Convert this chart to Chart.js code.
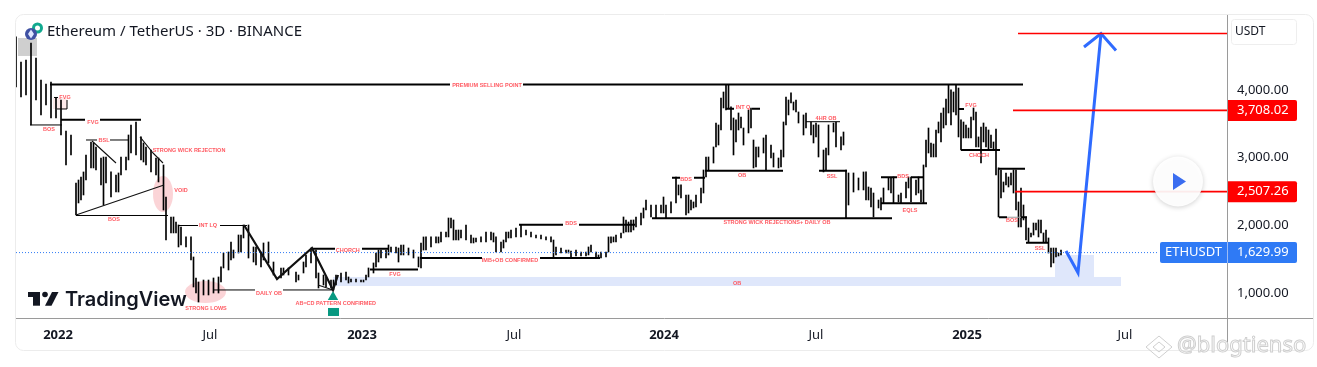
<!DOCTYPE html>
<html>
<head>
<meta charset="utf-8">
<script src="https://cdn.jsdelivr.net/npm/chart.js@4/dist/chart.umd.min.js"></script>
<style>
  html, body { margin: 0; padding: 0; background: #fff; overflow: hidden; }
  #chart { display: block; }
</style>
</head>
<body>
<canvas id="chart" width="1317" height="367"></canvas>
<script>
// x is the candle number (3D candles), y is the price in USDT
const candleIndex = [
  0,2,4,6,8,10,12,14,16,18,
  20,22,24,25,26,27,28,30,31,32,
  34,35,36,38,40,41,42,44,45,46,
  48,50,51,52,54,56,57,59,60,62,
  63,64,65,66,68,70,71,72,73,75,
  77,79,81,82,83,85,86,87,89,90,
  91,93,95,96,98,99,101,103,106,107,
  109,112,113,115,116,118,120,121,123,124,
  126,127,128,130,132,133,134,136,138,139,
  140,141,143,144,145,146,148,149,150,152,
  153,154,155,157,159,161,162,163,164,166,
  168,169,170,172,173,174,175,176,177,178,
  180,182,183,184,186,188,190,191,192,194,
  195,196,197,198,200,202,204,206,208,210,
  212,214,215,216,218,220,221,222,224,226,
  228,229,230,232,233,234,236,237,238,239,
  240,242,243,244,245,246,247,248,250,251,
  252,254,256,258,259,260,262,264,265,266,
  268,269,270,271,272,274,275,276,277,279,
  280,281,282,283,284,285,286,287,288,289,
  290,291,293,294,295,296,297,299,300,302,
  303,305,306,307,308,309,310,311,312,313,
  315,316,318,319,320,321,323,324,325,327,
  328,330,331,332,333,335,337,339,340,341,
  342,343,345,346,347,349,350,351,353,354,
  356,357,358,360,361,362,363,364,365,366,
  367,368,369,370,371,372,373,374,375,376,
  377,378,379,380,381,382,383,384,385,386,
  387,388,389,390,391,392,393,394,395,396,
  397,398,399,400,401,402,403,404,405,406,
  407,408,409,410,411,412,413,414,415,416,417,418
];
const candleHigh = [
  4782,4412,4442,4693,4471,4146,4087,4117,3880,3851,
  3393,3334,2625,2669,2714,2788,3039,3231,3216,3157,
  2994,3009,3009,2788,2743,2773,3009,3009,3334,3482,
  3526,3305,3216,3157,3112,2994,2994,2891,2418,2123,
  2123,2049,2005,1975,1828,1828,1532,1222,1163,1192,
  1192,1222,1237,1385,1591,1606,1754,1635,1857,1857,
  2005,2005,1680,1680,1606,1739,1754,1458,1370,1370,
  1370,1310,1266,1458,1562,1665,1635,1296,1266,1237,
  1192,1192,1266,1296,1310,1237,1207,1207,1192,1192,
  1266,1370,1444,1591,1635,1635,1635,1709,1680,1680,
  1665,1709,1709,1665,1635,1532,1739,1828,1828,1828,
  1828,1828,1901,1901,2108,2108,2079,1931,1931,1931,
  2005,1857,1813,1813,1828,1901,1901,1887,1828,1754,
  1783,1901,1901,1931,1960,2005,1931,1901,1857,1857,
  1828,1828,1783,1680,1665,1635,1635,1621,1635,1606,
  1606,1680,1709,1606,1562,1606,1606,1828,1828,1828,
  1857,1887,2123,2079,2049,2079,2079,2123,2182,2256,
  2374,2300,2300,2300,2418,2300,2345,2714,2596,2596,
  2448,2448,2374,2345,2448,2551,2817,3009,3009,3157,
  3511,3482,3880,3969,4073,4073,3748,3585,3556,3659,
  3600,3437,3703,3733,3260,3157,3157,3290,3334,3186,
  3068,2994,3112,3526,3895,3851,3955,3821,3851,3674,
  3630,3659,3526,3482,3511,3482,3112,3142,3482,3511,
  3526,3305,3378,2817,2773,2773,2699,2788,2788,2566,
  2551,2477,2374,2404,2551,2699,2699,2714,2448,2477,
  2640,2714,2714,2669,2714,2522,2891,3260,3437,3216,
  3201,3408,3526,3659,3733,3866,4073,3999,3969,4073,
  4028,3556,3526,3482,3437,3600,3733,3674,3305,3452,
  3511,3452,3408,3334,3231,3423,2847,2817,2640,2773,
  2714,2773,2817,2817,2345,2551,2300,2123,1960,1887,
  2034,2034,2079,2079,1887,1931,1813,1665,1665,1665,1591,1635
];
const candleLow = [
  4043,3895,3925,3482,3851,3630,3777,3585,3585,3334,
  2891,3039,2152,2330,2374,2448,2669,2847,2847,2817,
  2596,2300,2625,2418,2492,2492,2743,2817,2965,3068,
  3039,2965,2935,2891,2788,2743,2640,2226,1783,1887,
  1887,1887,1680,1709,1680,1488,1089,1000,867,971,
  971,1000,1000,1163,1370,1340,1488,1517,1591,1606,
  1813,1517,1458,1414,1385,1488,1444,1266,1222,1266,
  1266,1163,1192,1296,1385,1444,1222,1074,1118,1089,
  1074,1045,1118,1163,1192,1148,1163,1163,1163,1163,
  1192,1237,1296,1385,1458,1517,1517,1562,1606,1591,
  1458,1562,1562,1562,1517,1385,1370,1635,1635,1680,
  1739,1739,1754,1828,1828,1960,1783,1783,1783,1813,
  1783,1739,1739,1754,1754,1754,1783,1754,1606,1606,
  1665,1754,1813,1813,1828,1828,1857,1828,1813,1798,
  1783,1754,1532,1562,1591,1591,1591,1517,1547,1547,
  1547,1562,1606,1517,1517,1517,1532,1606,1739,1754,
  1754,1813,1887,1901,1901,1901,1931,1975,2005,2108,
  2226,2123,2108,2182,2182,2108,2182,2330,2448,2404,
  2152,2182,2226,2256,2271,2330,2477,2714,2817,2920,
  3157,3186,3408,3733,3703,3733,3408,3039,3231,3408,
  3437,3186,3364,3437,2847,2861,3009,3068,2817,2994,
  2861,2847,2861,3009,3482,3630,3807,3703,3674,3511,
  3334,3437,3334,3216,3305,3009,2788,2817,3039,3378,
  3157,3112,3186,2108,2300,2492,2522,2522,2374,2374,
  2271,2123,2256,2226,2330,2522,2477,2330,2345,2330,
  2404,2551,2345,2448,2477,2345,2330,2861,3068,3009,
  3009,3009,3364,3231,3437,3482,3659,3482,3674,3630,
  3305,3112,3290,3290,3290,3290,3556,3157,3157,2920,
  3231,3157,3112,3142,3112,2743,2123,2404,2492,2596,
  2566,2596,2477,2226,1975,1975,2079,1783,1754,1828,
  1857,1931,1828,1887,1754,1754,1591,1385,1444,1532,1547,1562
];

const axisPrices = [1000, 2000, 3000, 4000];
const axisMonthValues = [16.8, 77.6, 138.4, 199.2, 259.2, 320, 380.4, 443.6];
const axisMonthLabels = ["2022", "Jul", "2023", "Jul", "2024", "Jul", "2025", "Jul"];

// [from candle, to candle, price]
const thinLevels = [
  [5.6,18.4,3482], [15.2,16.8,3888], [16.4,20.4,3718], [28,32.4,3260], [37.6,45,3260],
  [24,60.8,2145], [64.8,72.8,1997], [81.6,92.4,1997], [78.8,95.6,1045], [106.8,126.8,1045],
  [316,329.6,3530]
];
const heavyLevels = [
  [13.6,173.6,4080], [202.8,402.8,4080], [118.4,127.6,1655], [138.4,148.8,1655], [141.6,160.8,1348],
  [161.6,186.4,1517], [209.6,233.6,1517], [201.2,218.8,2009], [225.2,247.6,2009], [254.4,350.4,2104],
  [262.4,265.6,2703], [271.2,275.6,2703], [275.6,306.8,2807], [284,287.2,3722], [294.4,297.6,3722],
  [321.2,332.4,2807], [346,352.4,2709], [358,363.2,2709], [346,364.4,2325], [376.8,379.2,3718],
  [378,393.6,3112], [392.8,403.6,2836], [393.2,396.4,2119], [402,404.4,2119], [404,413.2,1743],
  [18,27.6,3560], [33.6,50,3560]
];
const greyLevels = [[396.4,402,2119]];
const targetLevels = [[400.8,484.4,4833], [398.8,484.4,3696], [399.6,484.4,2497]];

// [candle, price, candle, price]
const thinDiagonals = [
  [30.4,3245,40,2920], [49.6,3305,54.8,3068], [54.8,3068,58.8,2920], [24,2152,59.2,2596],
  [120.8,1118,126.8,1045], [20.4,3851,20.4,3718]
];
const patternX = [91.2, 104.4, 118.4, 126.8, 128.8];
const patternY = [2005, 1207, 1665, 1045, 1266];
const forecastX = [420, 424.8, 434];
const forecastY = [1621, 1300, 4833];
const forecastHeadX = [427.2, 434, 440];
const forecastHeadY = [4634, 4833, 4582];

const lastPrice = 1597;
const levelPrices = [3696, 2497];
const levelLabels = ["3,708.02", "2,507.26"];
const lastPriceLabel = "1,629.99";
const buySignal = [[126.8, 941]];

// [from candle, to candle, top price, bottom price]
const zoneBlue = [[126.8,442,1237,1104], [415.6,431.2,1562,1237]];
const zoneGrey = [[0.8,8.4,4767,4501]];
const zonePink = [[14.8,20.4,3881,3718]];
const zoneTeal = [[124.8,129.2,779,661]];
// [candle, price, candle radius, price radius]
const ovals = [[58.8,2463,4,266], [75.8,1015,8.2,162]];

const notes = [
  ["PREMIUM SELLING POINT",188.4,4065], ["FVG",19.6,3895], ["BOS",13.2,3408], ["FVG",30.8,3519],
  ["BSL",35.2,3253], ["STRONG WICK REJECTION",69.2,3098], ["VOID",66,2511], ["BOS",39.2,2079],
  ["INT LQ",76.8,1994], ["DAILY OB",101.2,990], ["STRONG LOWS",76,769],
  ["AB=CD PATTERN CONFIRMED",127.9,842], ["CHORCH",132.7,1635], ["FVG",151.6,1281],
  ["IMB+OB CONFIRMED",197.6,1478], ["BDS",222,2020], ["OB",288.4,1148], ["BDS",268,2684],
  ["INT Q",290.8,3733], ["OB",290.4,2733], ["4HR OB",324,3585], ["SSL",326.4,2718],
  ["STRONG WICK REJECTIONS+ DAILY OB",304.4,2039], ["BDS",354.8,2714], ["EQLS",357.6,2226],
  ["FVG",382,3767], ["CHOCH",385.2,3028], ["BOS",398.4,2068], ["SSL",409.6,1655]
];

const FONT = '"Noto Sans", sans-serif';
const INK = "#131722";

function levelPoints(rows) {
  return rows.flatMap(r => [{x:r[0],y:r[2]}, {x:r[1],y:r[2]}, {x:r[1],y:null}]);
}
function diagonalPoints(rows) {
  return rows.flatMap(r => [{x:r[0],y:r[1]}, {x:r[2],y:r[3]}, {x:r[2],y:null}]);
}
function pathPoints(xs, ys) {
  return xs.map((x, i) => ({x: x, y: ys[i]}));
}
function lineSet(data, color, width, extra) {
  return Object.assign({
    type: "line", data: data, borderColor: color, borderWidth: width,
    pointRadius: 0, spanGaps: false, tension: 0, borderCapStyle: "butt"
  }, extra || {});
}

const drawZones = {
  id: "drawZones",
  beforeDatasetsDraw(chart) {
    const c = chart.ctx, sx = chart.scales.x, sy = chart.scales.y;
    function zones(rows, color) {
      c.fillStyle = color;
      rows.forEach(r => {
        const x = sx.getPixelForValue(r[0]), y = sy.getPixelForValue(r[2]);
        c.fillRect(x, y, sx.getPixelForValue(r[1]) - x, sy.getPixelForValue(r[3]) - y);
      });
    }
    zones(zoneGrey, "#cfcfcf");
    zones(zonePink, "#fdeaea");
    zones(zoneBlue, "#dfe7fb");
    zones(zoneTeal, "#089981");
    c.fillStyle = "rgba(242,120,130,0.32)";
    ovals.forEach(o => {
      const x = sx.getPixelForValue(o[0]), y = sy.getPixelForValue(o[1]);
      c.beginPath();
      c.ellipse(x, y, sx.getPixelForValue(o[0] + o[2]) - x, y - sy.getPixelForValue(o[1] + o[3]), 0, 0, 2 * Math.PI);
      c.fill();
    });
  }
};

const drawPanel = {
  id: "drawPanel",
  afterDraw(chart) {
    const c = chart.ctx, a = chart.chartArea, sx = chart.scales.x, sy = chart.scales.y;
    c.save();

    // red annotation texts
    c.font = 'bold 5.5px "Liberation Sans", sans-serif';
    c.fillStyle = "#ff5a62";
    c.textAlign = "center";
    c.textBaseline = "middle";
    notes.forEach(n => c.fillText(n[0], sx.getPixelForValue(n[1]), sy.getPixelForValue(n[2])));

    // frame and axis rules
    c.strokeStyle = "#ececec";
    c.lineWidth = 1;
    c.beginPath();
    c.roundRect(15.5, 14.5, 1298, 336, 8);
    c.stroke();
    c.strokeStyle = "#9a9a9a";
    c.beginPath();
    c.moveTo(a.right + 0.5, 15);
    c.lineTo(a.right + 0.5, 350);
    c.moveTo(16, a.bottom + 0.5);
    c.lineTo(1313, a.bottom + 0.5);
    c.stroke();

    // price tags
    c.font = "13px " + FONT;
    c.textBaseline = "middle";
    c.textAlign = "left";
    levelPrices.forEach((p, i) => {
      const y = sy.getPixelForValue(p);
      c.fillStyle = "#ff0000";
      c.beginPath();
      c.roundRect(a.right + 1, y - 10.5, 69, 21, [0, 2, 2, 0]);
      c.fill();
      c.fillStyle = "#fff";
      c.fillText(levelLabels[i], a.right + 10, y);
    });
    const ly = sy.getPixelForValue(lastPrice);
    c.fillStyle = "#2f7af5";
    c.beginPath();
    c.roundRect(1160, ly - 10.5, 137, 21, 2);
    c.fill();
    c.fillStyle = "#9dbcf5";
    c.fillRect(a.right, ly - 10.5, 1, 21);
    c.fillStyle = "#fff";
    c.fillText("ETHUSDT", 1165, ly);
    c.fillText(lastPriceLabel, a.right + 10, ly);

    // currency box
    c.strokeStyle = "#eeeeee";
    c.beginPath();
    c.roundRect(1231.5, 19.5, 65, 25, 3);
    c.stroke();
    c.fillStyle = INK;
    c.font = "12px " + FONT;
    c.fillText("USDT", 1235, 32);

    // title and coin icons
    c.fillStyle = "#11a98f";
    c.beginPath();
    c.arc(37.5, 28, 5.5, 0, 2 * Math.PI);
    c.fill();
    c.fillStyle = "#fff";
    c.beginPath();
    c.arc(37.5, 28, 2.5, 0, 2 * Math.PI);
    c.fill();
    c.fillStyle = "#3f51a3";
    c.beginPath();
    c.arc(31, 34, 6, 0, 2 * Math.PI);
    c.fill();
    c.fillStyle = "#dfe6ff";
    c.beginPath();
    c.moveTo(31, 29.5);
    c.lineTo(34, 34);
    c.lineTo(31, 38.5);
    c.lineTo(28, 34);
    c.closePath();
    c.fill();
    c.fillStyle = INK;
    c.font = "15px " + FONT;
    c.fillText("Ethereum / TetherUS · 3D · BINANCE", 47, 31.5);

    // TradingView logo
    c.fillRect(28, 292, 12, 5);
    c.fillRect(33, 292, 7, 13.7);
    c.beginPath();
    c.arc(45, 294.5, 2.8, 0, 2 * Math.PI);
    c.fill();
    c.beginPath();
    c.moveTo(52, 292);
    c.lineTo(58.5, 292);
    c.lineTo(51.5, 305.7);
    c.lineTo(45, 305.7);
    c.closePath();
    c.fill();
    c.font = '600 20px Inter, sans-serif';
    c.fillText("TradingView", 65, 299.5);

    // play button
    c.save();
    c.shadowColor = "rgba(0,0,0,0.2)";
    c.shadowBlur = 5;
    c.shadowOffsetY = 1;
    c.fillStyle = "rgba(255,255,255,0.92)";
    c.beginPath();
    c.arc(1178, 181.5, 25, 0, 2 * Math.PI);
    c.fill();
    c.restore();
    c.fillStyle = "#3a6df0";
    c.beginPath();
    c.moveTo(1173, 173);
    c.lineTo(1186, 181.5);
    c.lineTo(1173, 190);
    c.closePath();
    c.fill();

    // watermark
    c.strokeStyle = "#cfcfcf";
    c.fillStyle = "rgba(255,255,255,0.7)";
    c.lineWidth = 1;
    c.font = '22px "Noto Sans", sans-serif';
    c.fillText("@blogtienso", 1177, 346);
    c.strokeText("@blogtienso", 1177, 346);
    c.beginPath();
    c.moveTo(1146, 347);
    c.lineTo(1159, 336);
    c.lineTo(1172, 347);
    c.lineTo(1159, 358);
    c.closePath();
    c.moveTo(1153, 347);
    c.lineTo(1159, 342);
    c.lineTo(1165, 347);
    c.lineTo(1159, 352);
    c.closePath();
    c.stroke();
    c.restore();
  }
};

function init() {
  const candles = candleIndex.map((x, i) => ({x: x, y: [candleLow[i], candleHigh[i]]}));

  new Chart(document.getElementById("chart"), {
    type: "bar",
    data: {
      datasets: [
        lineSet(levelPoints(targetLevels), "#ff0000", 1.7),
        lineSet(pathPoints(forecastX, forecastY), "#2f6bff", 3, {borderJoinStyle: "miter"}),
        lineSet(pathPoints(forecastHeadX, forecastHeadY), "#2f6bff", 3),
        lineSet(pathPoints(patternX, patternY), "#111", 2.2),
        lineSet(levelPoints(heavyLevels), "#000", 2),
        lineSet(levelPoints(thinLevels), "#000", 1),
        lineSet(levelPoints(greyLevels), "#999", 1),
        lineSet(diagonalPoints(thinDiagonals), "#111", 1.1),
        lineSet(levelPoints([[0, 456.8, lastPrice]]), "#2f7af5", 1, {borderDash: [1, 2]}),
        {
          type: "line", data: buySignal.map(p => ({x: p[0], y: p[1]})), showLine: false,
          pointStyle: "triangle", pointRadius: 6, pointBackgroundColor: "#089981", pointBorderWidth: 0
        },
        {
          type: "bar", data: candles, backgroundColor: "#000", barThickness: 1,
          borderWidth: 0, borderSkipped: false
        }
      ]
    },
    options: {
      responsive: false,
      animation: false,
      layout: {padding: {left: 16, right: 4, top: 15, bottom: 17}},
      plugins: {legend: {display: false}, title: {display: false}, tooltip: {enabled: false}},
      scales: {
        x: {
          type: "linear", min: 0, max: 484.4, offset: false,
          grid: {display: false}, border: {display: false},
          afterBuildTicks: s => {
            s.ticks = axisMonthValues.map((v, i) => ({value: v, major: axisMonthLabels[i] !== "Jul"}));
          },
          afterFit: s => { s.height = 32; s.paddingLeft = 0; s.paddingRight = 0; },
          ticks: {
            autoSkip: false, maxRotation: 0, padding: 1, color: INK,
            font: ctx => ({family: FONT, size: 13, weight: ctx.tick && ctx.tick.major ? "bold" : "normal"}),
            callback: v => axisMonthLabels[axisMonthValues.indexOf(v)]
          }
        },
        y: {
          type: "linear", position: "right", min: 631, max: 5106,
          grid: {display: false}, border: {display: false},
          afterBuildTicks: s => { s.ticks = axisPrices.map(v => ({value: v})); },
          afterFit: s => { s.width = 86; s.paddingTop = 0; s.paddingBottom = 0; },
          ticks: {
            padding: 2, color: INK, font: {family: FONT, size: 13},
            callback: v => v.toLocaleString("en-US", {minimumFractionDigits: 2})
          }
        }
      }
    },
    plugins: [drawZones, drawPanel]
  });
}

window.onload = init;
</script>
</body>
</html>
